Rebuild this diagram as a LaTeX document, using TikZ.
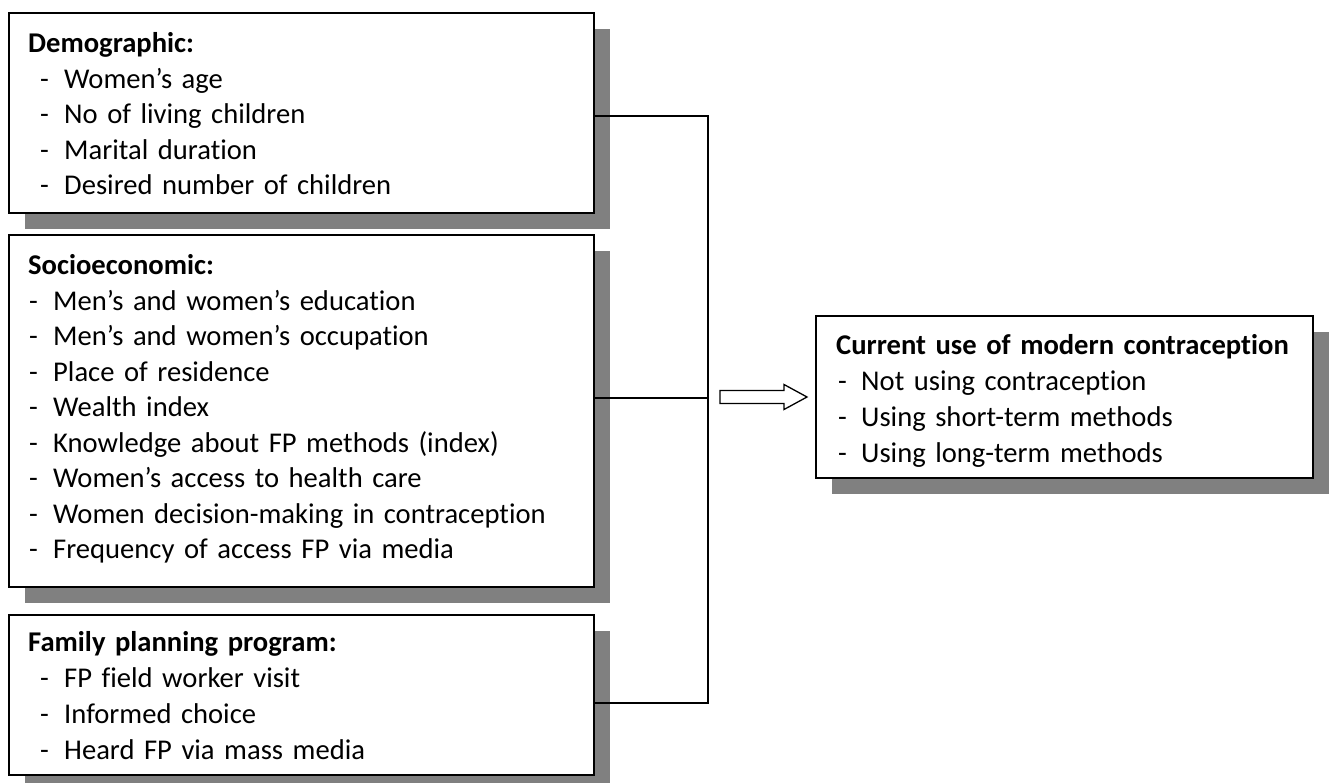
\documentclass[tikz,border=0pt]{standalone}
\usepackage{fontspec}
\setmainfont{Carlito}[Ligatures=NoCommon]
\usetikzlibrary{shadows}
\newcommand{\itA}[1]{\hspace*{12pt}\makebox[24pt][l]{-}#1}
\newcommand{\itB}[1]{\hspace*{1pt}\makebox[24pt][l]{-}#1}
\newcommand{\itC}[1]{\hspace*{2pt}\makebox[23pt][l]{-}#1}
\begin{document}
\begin{tikzpicture}[x=1pt,y=-1pt,
  factorbox/.style={draw=black, line width=1.6pt, fill=white, inner sep=0pt,
    drop shadow={shadow xshift=16pt, shadow yshift=-16pt, fill=black!50, opacity=1}},
  boxtext/.style={anchor=base west, inner sep=0pt, text width=560pt, align=left},
  conn/.style={draw=black, line width=1.3pt}
]
\useasboundingbox (0,0) rectangle (1331,783);

% boxes
\node[factorbox, minimum width=585pt, minimum height=200pt] (demo) at (301.5,113) {};
\node[factorbox, minimum width=585pt, minimum height=352pt] (socio) at (301.5,411) {};
\node[factorbox, minimum width=585pt, minimum height=160pt] (fpp) at (301.5,695) {};
\node[factorbox, minimum width=497pt, minimum height=162pt] (out) at (1064.5,397) {};

% texts
\node[boxtext, font=\fontsize{28.6}{35.5}\selectfont] (tdemo) at (28,53) {%
\textbf{Demographic:}\\
\itA{Women’s age}\\
\itA{No of living children}\\
\itA{Marital duration}\\
\itA{Desired number of children}};

\node[boxtext, font=\fontsize{28.6}{35.5}\selectfont] (tsocio) at (28,275) {%
\textbf{Socioeconomic:}\\
\itB{Men’s and women’s education}\\
\itB{Men’s and women’s occupation}\\
\itB{Place of residence}\\
\itB{Wealth index}\\
\itB{Knowledge about FP methods (index)}\\
\itB{Women’s access to health care}\\
\itB{Women decision-making in contraception}\\
\itB{Frequency of access FP via media}};

\node[boxtext, font=\fontsize{28.6}{36}\selectfont] (tfpp) at (28,651) {%
\textbf{Family planning program:}\\
\itA{FP field worker visit}\\
\itA{Informed choice}\\
\itA{Heard FP via mass media}};

\node[boxtext, text width=470pt, font=\fontsize{28.6}{36}\selectfont] (tout) at (836,355) {%
\textbf{Current use of modern contraception}\\
\itC{Not using contraception}\\
\itC{Using short-term methods}\\
\itC{Using long-term methods}};

% connectors
\coordinate (j1) at (708,116);
\coordinate (j2) at (708,398);
\coordinate (j3) at (708,703);
\draw[conn] (demo.east |- j1) -- (j1) -- (j3) -- (fpp.east |- j3);
\draw[conn] (socio.east |- j2) -- (j2);

% block arrow
\coordinate (as) at (720,397);
\draw[line width=1.3pt, fill=white, line join=miter]
  (as) ++(0,-6.5) -- (784,390.5) -- (784,384.5) -- (out.west -| 807,397) -- (784,409.5) -- (784,403.5) -- (720,403.5) -- cycle;
\end{tikzpicture}
\end{document}
